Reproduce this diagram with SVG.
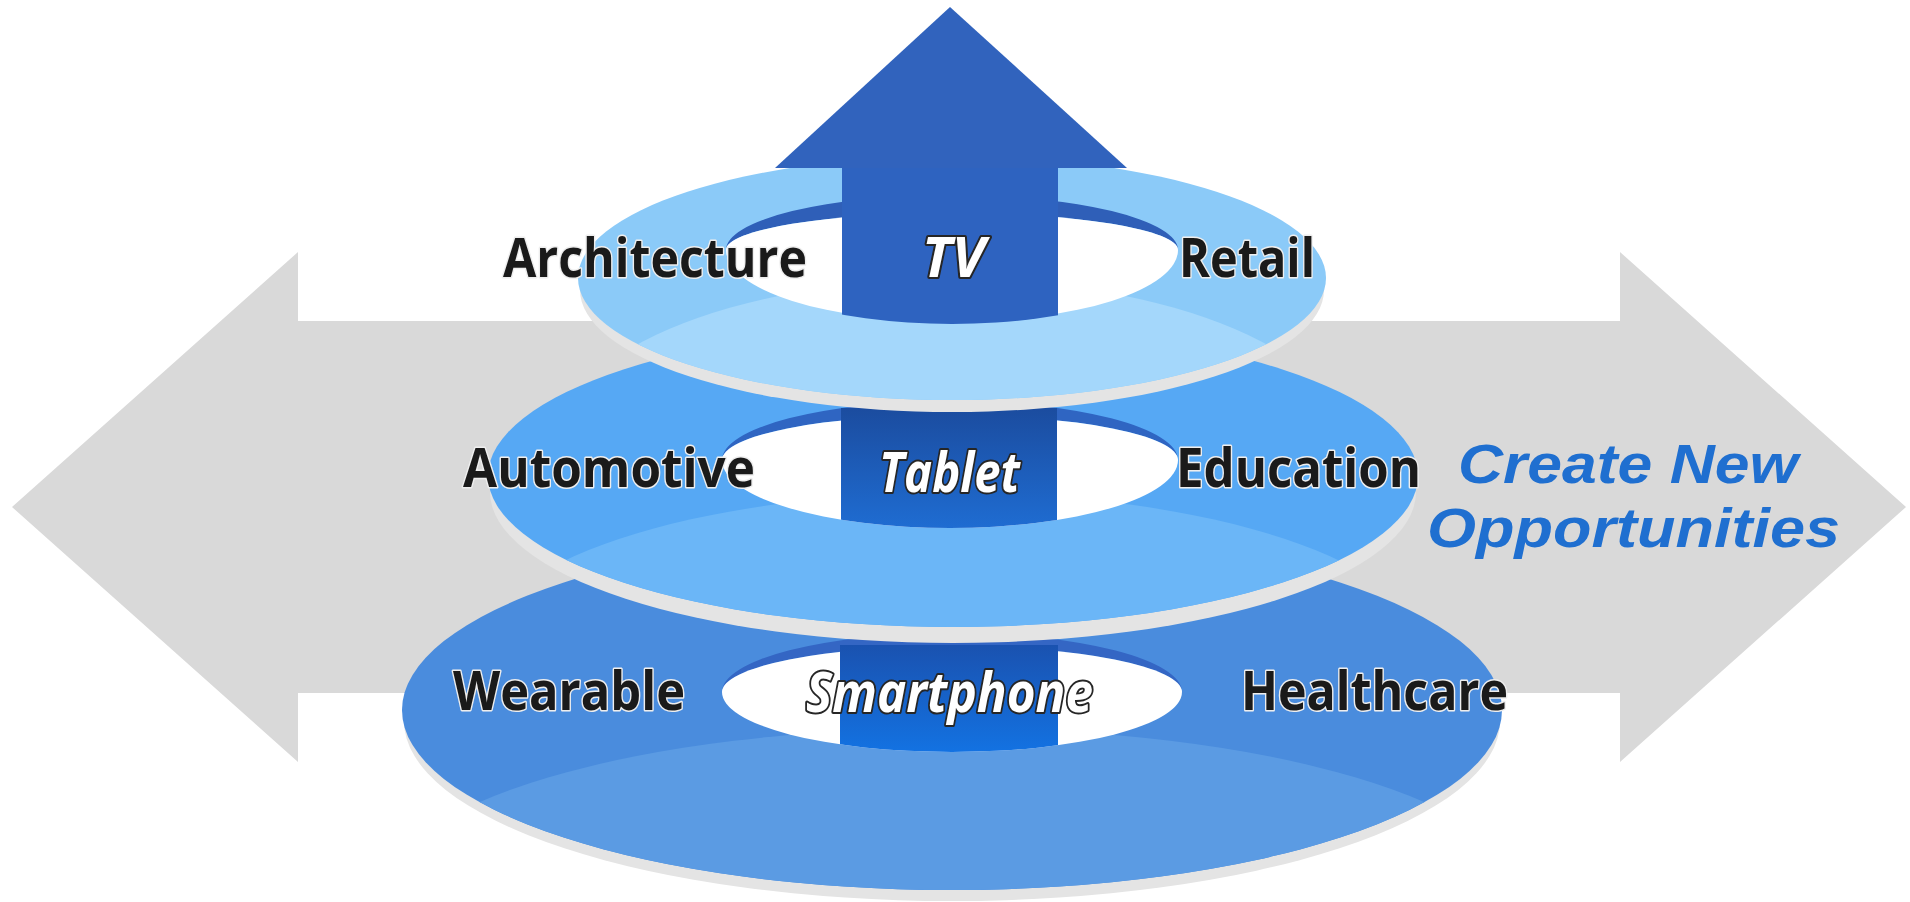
<svg xmlns="http://www.w3.org/2000/svg" width="1910" height="902" viewBox="0 0 1910 902">
  <defs>
    <style>
      .lbl { font-family: "Open Sans", "Noto Sans", "Liberation Sans", sans-serif; font-weight: 700; font-size: 54px; fill: #1a1a1a; stroke: #eeeeee; stroke-width: 3px; paint-order: stroke; stroke-linejoin: round; }
      .dev { font-family: "Open Sans", "Noto Sans", "Liberation Sans", sans-serif; font-weight: 700; font-style: italic; font-size: 55px; fill: #ffffff; stroke: #262626; stroke-width: 4px; paint-order: stroke; stroke-linejoin: round; }
      .cta { font-family: "Liberation Sans", Arial, sans-serif; font-weight: 700; font-style: italic; font-size: 56px; fill: #1f6fd0; }
      .rim { fill: #e4e4e4; }
      .hole { fill: #ffffff; }
    </style>
    <linearGradient id="gShaftBottom" x1="0" y1="0" x2="0" y2="1">
      <stop offset="0" stop-color="#1a52b0"/>
      <stop offset="1" stop-color="#1276e8"/>
    </linearGradient>
    <linearGradient id="gShaftMiddle" x1="0" y1="0" x2="0" y2="1">
      <stop offset="0" stop-color="#1b4c9f"/>
      <stop offset="1" stop-color="#1f6fd6"/>
    </linearGradient>
    <clipPath id="cRingBottom"><ellipse cx="952" cy="710" rx="550" ry="180"/></clipPath>
    <clipPath id="cRingMiddle"><ellipse cx="953" cy="476" rx="465" ry="151"/></clipPath>
    <clipPath id="cRingTop"><ellipse cx="952" cy="278" rx="374" ry="122"/></clipPath>
    <clipPath id="cHoleBottom"><path d="M722,640 L1182,640 L1182,692 A230,60 0 0 1 722,692 Z"/></clipPath>
    <clipPath id="cHoleMiddle"><path d="M722,408 L1178,408 L1178,460 A228,68 0 0 1 722,460 Z"/></clipPath>
    <clipPath id="cHoleTop"><path d="M726,160 L1178,160 L1178,250 A226,74 0 0 1 726,250 Z"/></clipPath>
  </defs>

  <rect x="0" y="0" width="1910" height="902" fill="#ffffff"/>

  <g id="connectors">
    <polygon id="bg-arrow" fill="#d9d9d9" points="12,507 298,252 298,321 1620,321 1620,252 1906,507 1620,762 1620,693 298,693 298,762"/>
  </g>

  <g id="ring-bottom">
    <ellipse class="rim" cx="952" cy="721" rx="548" ry="180"/>
    <ellipse cx="952" cy="710" rx="550" ry="180" fill="#4a8cdd"/>
    <ellipse cx="952" cy="896" rx="570" ry="168" fill="#5b9be3" clip-path="url(#cRingBottom)"/>
    <path d="M722,692 A230,59 0 0 1 1182,692 A230,46 0 0 0 722,692 Z" fill="#3466c4"/>
    <path class="hole" d="M722,692 A230,46 0 0 1 1182,692 A230,60 0 0 1 722,692 Z"/>
    <rect x="840" y="645" width="218" height="120" fill="url(#gShaftBottom)" clip-path="url(#cHoleBottom)"/>
  </g>

  <g id="ring-middle">
    <ellipse class="rim" cx="953" cy="492" rx="463" ry="151"/>
    <ellipse cx="953" cy="476" rx="465" ry="151" fill="#56a8f4"/>
    <ellipse cx="952" cy="649" rx="470" ry="156" fill="#6bb6f7" clip-path="url(#cRingMiddle)"/>
    <path d="M722,460 A228,59 0 0 1 1178,460 A228,45 0 0 0 722,460 Z" fill="#2f65c2"/>
    <path class="hole" d="M722,460 A228,45 0 0 1 1178,460 A228,68 0 0 1 722,460 Z"/>
    <rect x="841" y="408" width="216" height="130" fill="url(#gShaftMiddle)" clip-path="url(#cHoleMiddle)"/>
  </g>

  <g id="ring-top">
    <ellipse class="rim" cx="952" cy="290" rx="372" ry="122"/>
    <ellipse cx="952" cy="278" rx="374" ry="122" fill="#8bcaf8"/>
    <ellipse cx="952" cy="450" rx="400" ry="171" fill="#a4d7fb" clip-path="url(#cRingTop)"/>
    <path d="M726,250 A226,55 0 0 1 1178,250 A226,37 0 0 0 726,250 Z" fill="#2f5fb8"/>
    <path class="hole" d="M726,250 A226,37 0 0 1 1178,250 A226,72 0 0 1 726,250 Z"/>
  </g>

  <g id="up-arrow">
    <rect x="842" y="160" width="216" height="180" fill="#2e63c0" clip-path="url(#cHoleTop)"/>
    <polygon points="775,168 950,7 1127,168" fill="#3163bd"/>
  </g>

  <g id="labels-top">
    <text class="lbl" x="503" y="277" textLength="304" lengthAdjust="spacingAndGlyphs">Architecture</text>
    <text class="dev" x="922" y="277" textLength="63" lengthAdjust="spacingAndGlyphs">TV</text>
    <text class="lbl" x="1179" y="277" textLength="136" lengthAdjust="spacingAndGlyphs">Retail</text>
  </g>
  <g id="labels-middle">
    <text class="lbl" x="463" y="487" textLength="292" lengthAdjust="spacingAndGlyphs">Automotive</text>
    <text class="dev" x="879" y="492" textLength="141" lengthAdjust="spacingAndGlyphs">Tablet</text>
    <text class="lbl" x="1176" y="487" textLength="245" lengthAdjust="spacingAndGlyphs">Education</text>
  </g>
  <g id="labels-bottom">
    <text class="lbl" x="453" y="710" textLength="232" lengthAdjust="spacingAndGlyphs">Wearable</text>
    <text class="dev" x="806" y="712" textLength="287" lengthAdjust="spacingAndGlyphs">Smartphone</text>
    <text class="lbl" x="1241" y="710" textLength="267" lengthAdjust="spacingAndGlyphs">Healthcare</text>
  </g>
  <g id="tagline">
    <text class="cta"><tspan x="1458" y="483" textLength="340" lengthAdjust="spacingAndGlyphs">Create New</tspan><tspan x="1427" y="547" textLength="413" lengthAdjust="spacingAndGlyphs">Opportunities</tspan></text>
  </g>
</svg>
